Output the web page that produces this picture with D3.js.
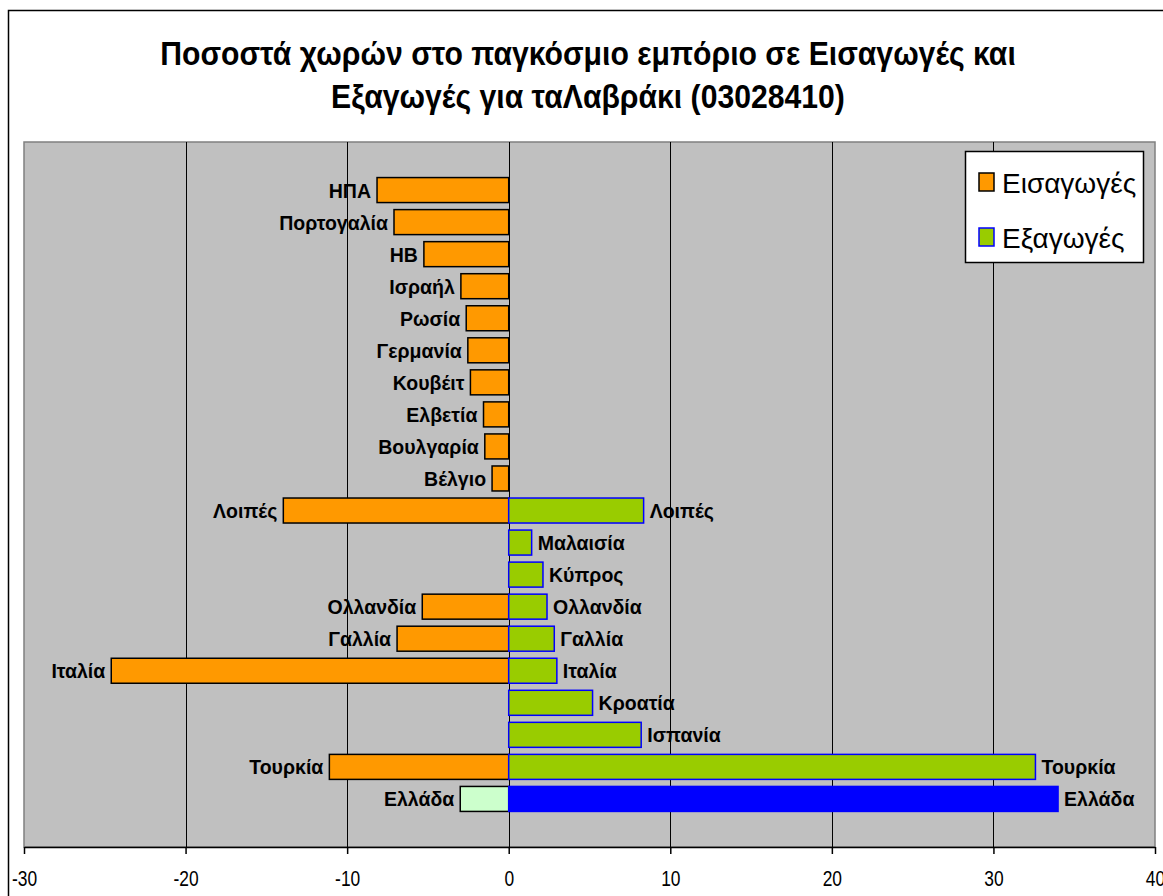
<!DOCTYPE html>
<html><head><meta charset="utf-8">
<script src="https://cdn.jsdelivr.net/npm/d3@7"></script>
<style>body{margin:0;background:#fff} text{font-family:"Liberation Sans",Arial,sans-serif}</style>
</head><body><svg id="c" width="1163" height="896"></svg>
<script>
const categories = ["ΗΠΑ","Πορτογαλία","ΗΒ","Ισραήλ","Ρωσία","Γερμανία","Κουβέιτ","Ελβετία","Βουλγαρία","Βέλγιο","Λοιπές","Μαλαισία","Κύπρος","Ολλανδία","Γαλλία","Ιταλία","Κροατία","Ισπανία","Τουρκία","Ελλάδα"];
const importValues = [-8.15,-7.1,-5.25,-2.96,-2.63,-2.53,-2.37,-1.56,-1.48,-1.03,-13.95,null,null,-5.35,-6.91,-24.6,null,null,-11.1,-3.0];
const exportValues = [null,null,null,null,null,null,null,null,null,null,8.35,1.42,2.12,2.37,2.82,2.98,5.19,8.2,32.6,34.0];
const xTicks = [-30,-20,-10,0,10,20,30,40];
const titleLines = ["Ποσοστά χωρών στο παγκόσμιο εμπόριο σε Εισαγωγές και","Εξαγωγές για ταΛαβράκι (03028410)"];
const legendLabels = ["Εισαγωγές","Εξαγωγές"];
const highlightCategory = "Ελλάδα";

const svg = d3.select("#c");
const P = {l:24, r:1155, t:142, b:847};

// outer border
svg.append("rect").attr("x",8.5).attr("y",10.5).attr("width",1170).attr("height",900)
  .attr("fill","#fff").attr("stroke","#000").attr("stroke-width",1.5);

// title
titleLines.forEach((t,i)=>{
  svg.append("text").attr("transform",`translate(588,${65+i*43}) scale(0.914,1)`)
    .attr("text-anchor","middle").attr("font-weight","bold").attr("font-size",33).text(t);
});

const x = d3.scaleLinear().domain([-30,40]).range([P.l,P.r]);
const idx = d3.range(categories.length);
const y = d3.scaleBand().domain(idx).range([P.t,P.b]).paddingInner(0.22).paddingOuter(1.11);

svg.append("rect").attr("x",P.l).attr("y",P.t).attr("width",P.r-P.l).attr("height",P.b-P.t)
  .attr("fill","#C0C0C0").attr("stroke","#808080").attr("stroke-width",1.5);

// gridlines
svg.append("g").selectAll("line").data(xTicks.slice(1,-1)).join("line")
  .attr("x1",d=>Math.round(x(d))+0.5).attr("x2",d=>Math.round(x(d))+0.5)
  .attr("y1",P.t).attr("y2",P.b).attr("stroke","#000").attr("stroke-width",1);

// axis
const ax = svg.append("g").attr("transform",`translate(0,${P.b})`)
  .call(d3.axisBottom(x).tickValues(xTicks).tickSize(7).tickSizeOuter(0).tickFormat(d=>String(d)));
ax.select(".domain").attr("stroke","#000").attr("stroke-width",1.5);
ax.selectAll(".tick line").attr("stroke","#000").attr("stroke-width",1.5);
ax.selectAll(".tick text").attr("font-size",22).attr("fill","#000").attr("dy",0).attr("y",39.5)
  .attr("font-family","Liberation Sans, Arial, sans-serif")
  .attr("transform","scale(0.79,1)");

const isHi = i => categories[i]===highlightCategory;

// import bars
const imp = idx.filter(i=>importValues[i]!=null);
svg.append("g").selectAll("rect").data(imp).join("rect")
  .attr("x",i=>x(importValues[i])).attr("width",i=>x(0)-x(importValues[i]))
  .attr("y",i=>y(i)).attr("height",y.bandwidth())
  .attr("fill",i=>isHi(i)?"#CCFFCC":"#FF9900").attr("stroke","#000").attr("stroke-width",1.5);

// export bars
const exp = idx.filter(i=>exportValues[i]!=null);
svg.append("g").selectAll("rect").data(exp).join("rect")
  .attr("x",x(0)).attr("width",i=>x(exportValues[i])-x(0))
  .attr("y",i=>y(i)).attr("height",y.bandwidth())
  .attr("fill",i=>isHi(i)?"#0000FF":"#99CC00").attr("stroke","#0000FF").attr("stroke-width",1.5);

// labels
const LK = 0.93, LF = 21;
svg.append("g").selectAll("text").data(imp).join("text")
  .attr("transform",i=>`translate(${x(importValues[i])-6},${y(i)+y.bandwidth()/2+7.5}) scale(${LK},1)`)
  .attr("text-anchor","end").attr("font-weight","bold").attr("font-size",LF).text(i=>categories[i]);
svg.append("g").selectAll("text").data(exp).join("text")
  .attr("transform",i=>`translate(${x(exportValues[i])+6},${y(i)+y.bandwidth()/2+7.5}) scale(${LK},1)`)
  .attr("text-anchor","start").attr("font-weight","bold").attr("font-size",LF).text(i=>categories[i]);

// legend
const lg = svg.append("g");
lg.append("rect").attr("x",965.5).attr("y",151.5).attr("width",178).attr("height",111)
  .attr("fill","#fff").attr("stroke","#000").attr("stroke-width",1.5);
const legFill = ["#FF9900","#99CC00"], legStroke=["#000","#0000FF"];
legendLabels.forEach((t,i)=>{
  lg.append("rect").attr("x",979).attr("y",173+i*55).attr("width",15).attr("height",18)
    .attr("fill",legFill[i]).attr("stroke",legStroke[i]).attr("stroke-width",1.5);
  lg.append("text").attr("transform",`translate(1002,${193+i*55})`)
    .attr("font-size",28).text(t);
});
</script></body></html>
